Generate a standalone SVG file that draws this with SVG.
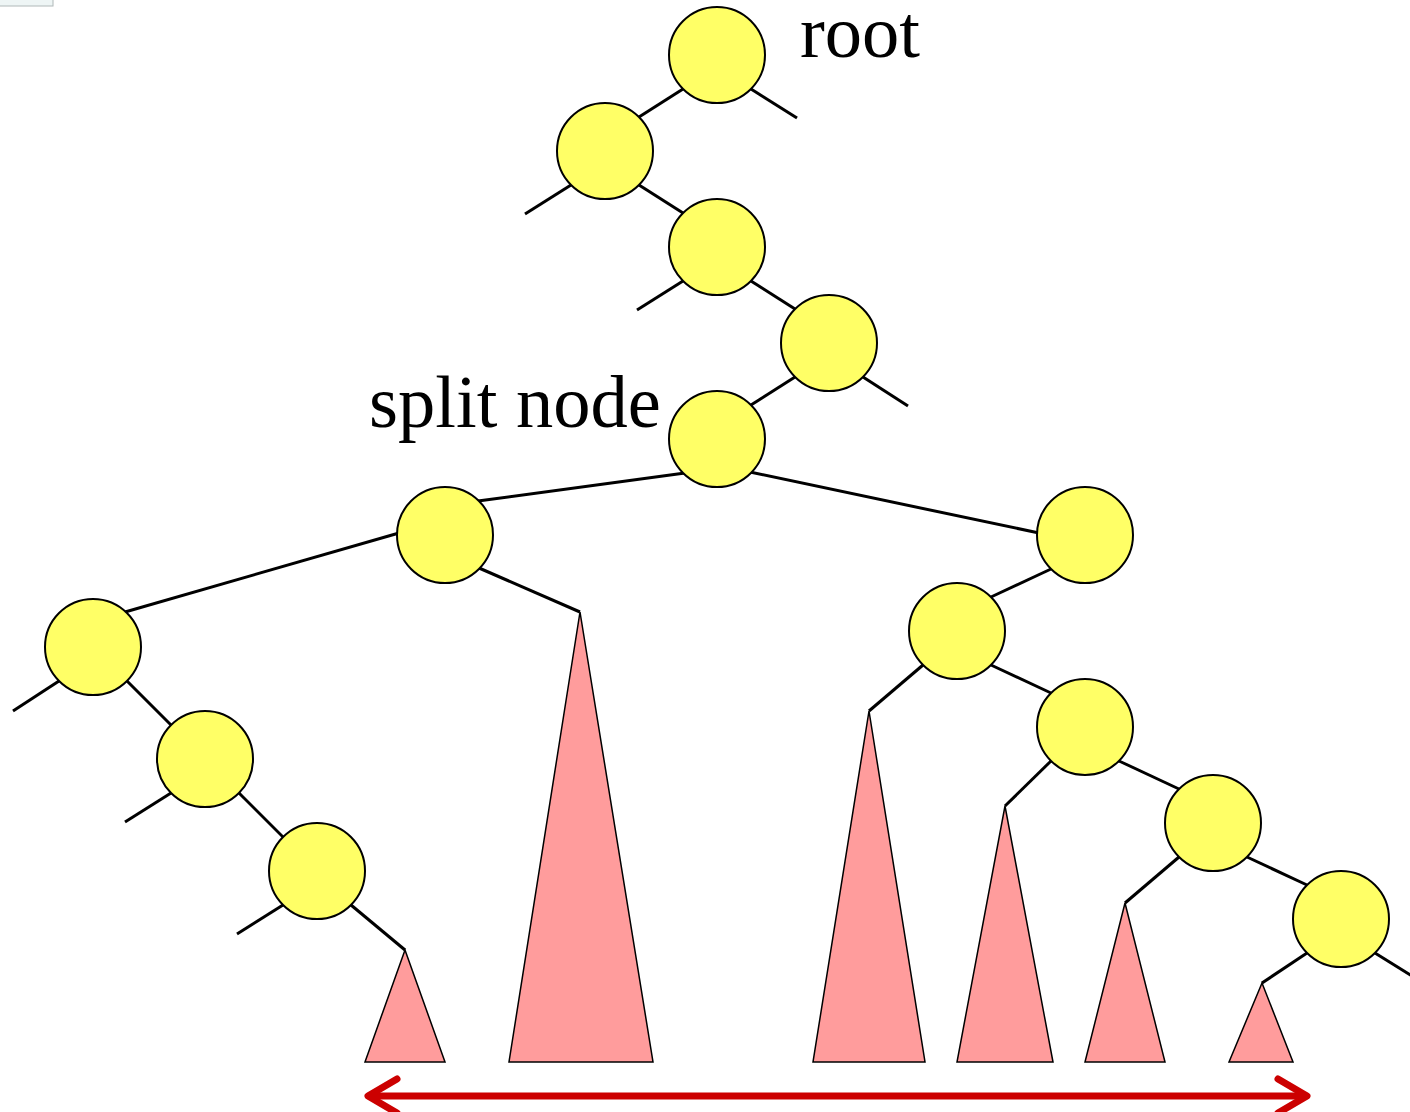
<svg xmlns="http://www.w3.org/2000/svg" width="1410" height="1112" viewBox="0 0 1410 1112">
<style>
.e{stroke:#000;stroke-width:3;fill:none}
.n{fill:#ffff66;stroke:#000;stroke-width:2}
.t{fill:#ff9c9c;stroke:#000;stroke-width:1.5;stroke-linejoin:miter}
.lbl{font-family:"Liberation Serif",serif;font-size:74.5px;fill:#000}
.arr{stroke:#cc0000;stroke-width:7;fill:none;stroke-linecap:round;stroke-linejoin:round}
</style>
<rect x="-1" y="-1" width="54" height="7" fill="#eef5f5" stroke="#b0b8b8" stroke-width="1"/>
<g id="connectors">
<line class="e" x1="751" y1="89" x2="797" y2="118"/>
<line class="e" x1="683" y1="89" x2="639" y2="117"/>
<line class="e" x1="571" y1="185" x2="525" y2="214"/>
<line class="e" x1="639" y1="185" x2="683" y2="213"/>
<line class="e" x1="683" y1="281" x2="637" y2="310"/>
<line class="e" x1="751" y1="281" x2="795" y2="309"/>
<line class="e" x1="863" y1="377" x2="908" y2="406"/>
<line class="e" x1="795" y1="377" x2="751" y2="405"/>
<line class="e" x1="685" y1="473" x2="478" y2="501"/>
<line class="e" x1="750" y1="472" x2="1039" y2="533"/>
<line class="e" x1="399" y1="533" x2="125" y2="612"/>
<line class="e" x1="479" y1="568" x2="580" y2="612"/>
<line class="e" x1="59" y1="681" x2="13" y2="711"/>
<line class="e" x1="93" y1="647" x2="205" y2="759"/>
<line class="e" x1="171" y1="793" x2="125" y2="822"/>
<line class="e" x1="205" y1="759" x2="317" y2="871"/>
<line class="e" x1="283" y1="905" x2="237" y2="934"/>
<line class="e" x1="351" y1="905" x2="405" y2="950"/>
<line class="e" x1="1051" y1="569" x2="991" y2="597"/>
<line class="e" x1="923" y1="665" x2="869" y2="711"/>
<line class="e" x1="991" y1="665" x2="1051" y2="693"/>
<line class="e" x1="1051" y1="761" x2="1005" y2="806"/>
<line class="e" x1="1119" y1="761" x2="1179" y2="789"/>
<line class="e" x1="1179" y1="857" x2="1125" y2="903"/>
<line class="e" x1="1247" y1="857" x2="1307" y2="885"/>
<line class="e" x1="1307" y1="953" x2="1262" y2="983"/>
<line class="e" x1="1375" y1="953" x2="1412" y2="976"/>
</g>
<g id="subtrees">
<polygon id="t1" class="t" points="405,950 365,1062 445,1062"/>
<polygon id="t2" class="t" points="580,612 509,1062 653,1062"/>
<polygon id="t3" class="t" points="869,711 813,1062 925,1062"/>
<polygon id="t4" class="t" points="1005,806 957,1062 1053,1062"/>
<polygon id="t5" class="t" points="1125,903 1085,1062 1165,1062"/>
<polygon id="t6" class="t" points="1262,983 1229,1062 1293,1062"/>
</g>
<g id="root"><circle class="n" cx="717" cy="55" r="48"/></g>
<g id="n2"><circle class="n" cx="605" cy="151" r="48"/></g>
<g id="n3"><circle class="n" cx="717" cy="247" r="48"/></g>
<g id="n4"><circle class="n" cx="829" cy="343" r="48"/></g>
<g id="split"><circle class="n" cx="717" cy="439" r="48"/></g>
<g id="l1"><circle class="n" cx="445" cy="535" r="48"/></g>
<g id="l2"><circle class="n" cx="93" cy="647" r="48"/></g>
<g id="l3"><circle class="n" cx="205" cy="759" r="48"/></g>
<g id="l4"><circle class="n" cx="317" cy="871" r="48"/></g>
<g id="r1"><circle class="n" cx="1085" cy="535" r="48"/></g>
<g id="r2"><circle class="n" cx="957" cy="631" r="48"/></g>
<g id="r3"><circle class="n" cx="1085" cy="727" r="48"/></g>
<g id="r4"><circle class="n" cx="1213" cy="823" r="48"/></g>
<g id="r5"><circle class="n" cx="1341" cy="919" r="48"/></g>
<text class="lbl" x="800" y="57">root</text>
<text class="lbl" x="369" y="427">split node</text>
<g id="range">
<line class="arr" x1="370" y1="1096" x2="1305" y2="1096"/>
<polyline class="arr" points="397,1079 368,1096 397,1113"/>
<polyline class="arr" points="1278,1079 1307,1096 1278,1113"/>
</g>
</svg>
